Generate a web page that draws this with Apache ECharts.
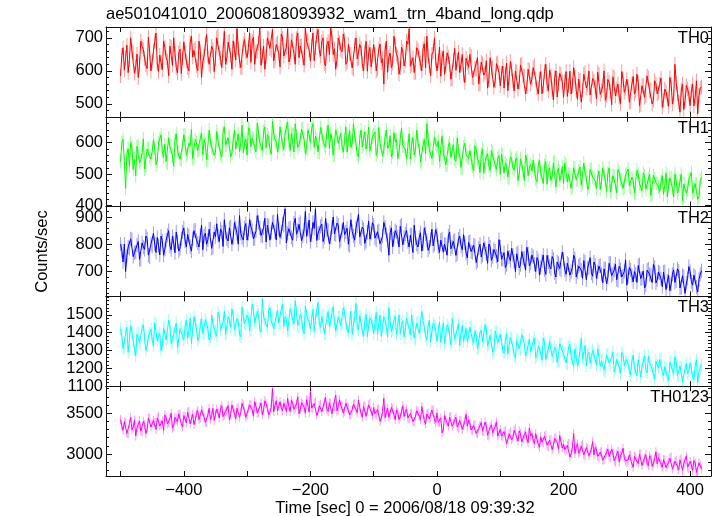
<!DOCTYPE html>
<html><head><meta charset="utf-8">
<script src="https://cdn.jsdelivr.net/npm/echarts@6/dist/echarts.min.js"></script>
<style>html,body{margin:0;padding:0;background:#fff}#c{width:717px;height:516px}</style>
</head><body><div id="c"></div>
<script>
// time bins: first bin start and bin width (sec)
const T_START = -500, T_BIN = 2;

const th0 = [
585,647,670,602,640,678,595,634,700,660,655,593,612,651,580,620,690,674,665,638,618,607,702,656,600,629,
660,689,715,622,598,648,625,604,690,671,640,631,585,675,672,617,700,653,610,594,655,666,592,640,
688,655,630,610,600,686,705,642,662,668,615,601,690,659,580,628,645,682,710,646,620,614,675,664,598,637,
700,705,655,638,610,664,720,620,640,687,690,647,605,691,665,633,728,669,630,610,612,682,695,656,
640,671,715,626,690,702,620,658,660,684,731,617,645,675,605,644,700,698,668,662,725,630,630,680,685,653,
612,712,700,645,660,671,728,627,640,694,690,654,620,698,715,640,675,676,640,617,732,689,690,663,
630,676,715,631,670,707,725,663,645,689,700,622,615,680,690,649,730,703,650,667,605,635,700,685,665,658,
712,694,620,627,680,653,650,609,605,676,700,636,640,680,668,622,600,658,690,599,655,671,612,645,
680,650,600,605,665,681,625,637,560,663,690,596,642,654,610,623,705,677,650,641,590,609,672,659,615,632,
690,681,728,614,620,640,595,596,670,663,640,623,600,667,682,609,705,645,615,586,650,658,700,632,
600,629,672,584,640,660,590,616,655,642,620,575,575,633,668,602,632,656,595,620,650,588,565,638,625,611,
650,645,580,578,608,604,640,560,560,627,622,587,595,631,548,573,640,609,610,550,570,622,625,596,
555,593,615,548,590,624,540,580,628,606,570,539,600,597,545,566,618,620,585,584,530,552,605,602,560,575,
610,616,575,549,530,575,598,531,555,598,620,558,540,602,585,544,512,580,600,521,560,593,590,567,
520,568,598,523,555,599,530,555,610,581,540,514,575,572,505,541,590,595,548,559,600,527,522,577,570,550,
515,596,590,529,540,555,600,511,525,574,565,538,498,582,580,524,545,560,520,501,598,574,535,547,
575,552,505,507,560,583,530,539,590,565,495,498,555,556,520,525,585,579,540,543,500,511,570,561,530,534,
560,578,490,511,545,537,515,493,580,560,500,520,620,564,530,506,475,542,560,483,510,556,545,529,
495,539,560,494,520,570,470,526,548,552];

const th1 = [
540,600,610,540,455,564,580,524,600,584,515,548,495,588,590,536,545,568,612,516,520,580,580,556,548,572,
610,583,530,543,598,611,625,571,555,595,540,535,615,587,590,559,525,607,628,575,570,547,545,591,
625,626,560,566,598,590,642,550,548,610,600,574,575,614,630,562,610,594,545,542,640,606,585,582,560,570,
635,604,600,564,555,632,650,592,590,616,620,556,565,608,640,580,605,628,572,596,655,568,598,612,
560,647,640,587,615,611,585,571,662,631,600,595,575,635,650,583,625,615,580,563,668,627,610,603,570,590,
650,618,595,578,630,646,665,606,575,630,625,570,660,622,585,594,610,642,645,610,565,582,640,626,
600,645,660,585,620,609,570,569,648,629,605,593,585,633,655,581,628,613,560,561,640,625,598,601,630,588,
570,610,650,570,610,638,585,598,660,622,598,562,555,614,640,586,615,634,580,602,650,574,595,618,
625,634,560,574,648,598,600,558,575,618,640,582,590,622,555,570,632,602,610,550,570,614,645,590,585,578,
548,588,628,548,595,616,560,576,640,600,582,540,540,592,610,564,660,612,575,580,550,552,618,596,
588,605,540,545,622,569,570,529,530,589,600,553,575,593,548,541,615,573,560,521,520,585,598,561,555,550,
575,551,525,511,590,579,548,539,505,563,580,503,540,555,565,527,512,575,570,543,530,515,550,559,
500,564,560,504,535,528,490,488,555,548,520,512,545,552,480,500,548,532,510,480,560,544,495,520,530,510,
545,516,485,476,525,544,505,504,470,528,540,468,512,520,480,492,535,540,460,508,520,480,495,524,
470,535,530,475,500,499,455,459,520,519,482,483,510,523,465,471,535,503,490,451,460,515,515,491,488,480,
455,491,510,451,478,519,500,479,445,503,520,443,470,495,495,467,440,515,505,483,480,455,458,499,
500,516,462,456,490,480,440,440,512,500,470,464,448,504,495,452,468,484,500,432,435,496,485,472,470,460,
445,476,495,436,465,504,428,464,488,488,455,428,500,480,440,452,478,500,415,468,470,440,450,484,
485,505,440,445,470,469,420,429,480,489];

const th2 = [
800,777,735,801,700,757,790,785,820,817,755,769,772,797,810,745,745,805,790,781,830,821,760,753,800,793,
840,801,770,825,795,761,830,813,760,781,815,833,850,793,780,829,805,769,845,809,775,785,820,845,
860,812,790,836,830,792,775,820,850,852,815,804,790,832,870,780,830,840,800,816,855,856,785,788,845,828,
875,832,810,856,845,792,890,844,820,812,860,864,800,824,880,860,840,800,905,840,825,816,860,876,
815,840,890,864,850,820,820,848,905,880,860,832,830,860,895,808,870,868,815,844,880,884,845,816,910,856,
825,845,875,869,930,805,840,857,860,825,815,877,895,837,850,873,880,813,830,853,920,829,855,889,
810,834,880,858,930,814,840,842,865,874,810,826,895,854,850,802,825,862,900,838,835,878,870,810,815,850,
880,835,845,859,800,795,890,847,830,815,860,867,910,827,820,863,855,803,810,843,885,819,840,879,
870,822,815,846,850,802,795,830,880,862,835,814,760,842,860,790,820,850,845,826,790,866,870,798,825,838,
850,810,790,834,835,770,870,822,800,790,825,842,775,802,860,838,815,778,790,818,855,794,800,854,
835,791,770,815,820,771,800,799,760,831,845,783,790,811,815,759,765,819,830,795,780,835,805,767,750,807,
810,773,770,797,795,733,740,785,800,753,760,805,785,765,730,801,790,741,755,781,775,757,735,817,
790,745,745,769,715,725,775,753,740,785,760,737,700,765,770,713,725,773,750,749,705,789,765,721,730,761,
755,727,700,751,740,687,715,739,760,707,690,759,735,719,710,755,745,695,680,735,730,711,705,771,
745,707,690,731,725,687,700,715,760,747,680,699,720,727,705,675,740,735,670,711,715,751,695,683,735,723,
675,699,720,723,690,659,710,711,655,679,730,731,685,691,705,727,670,667,720,707,680,683,700,743,
650,682,715,706,685,662,700,690,660,722,725,674,675,702,640,650,705,710,690,686,660,726,715,658,670,698,
695,674,645,698,700,634,665,686,630,654,690,706,660,666,710,702,640,642,685,682,620,658,675,718,
700,663,650,687,680,643,625,671,690,703];

const th3 = [
1420,1384,1310,1319,1395,1430,1290,1364,1440,1404,1350,1306,1270,1391,1400,1345,1335,1423,1445,1371,1300,1325,1380,1397,1420,1358,
1330,1455,1450,1357,1380,1397,1300,1331,1425,1429,1360,1370,1470,1436,1340,1351,1395,1403,1455,1318,1320,1423,1430,1383,
1360,1435,1470,1370,1405,1481,1340,1415,1490,1455,1420,1357,1375,1442,1480,1396,1395,1474,1450,1422,1360,1376,1500,1448,1420,1409,
1380,1515,1495,1417,1440,1457,1520,1391,1400,1489,1470,1430,1535,1496,1420,1411,1480,1463,1390,1378,1545,1483,1450,1443,
1500,1482,1410,1417,1560,1528,1455,1462,1520,1502,1420,1404,1590,1489,1470,1443,1430,1521,1540,1469,1480,1423,1415,1495,1525,1456,
1450,1534,1560,1436,1490,1476,1410,1410,1535,1508,1470,1449,1580,1515,1440,1430,1505,1482,1420,1397,1550,1502,1475,1462,
1420,1473,1530,1408,1480,1519,1570,1453,1430,1493,1500,1395,1395,1480,1520,1434,1465,1512,1545,1460,1410,1414,1490,1486,1440,1447,
1540,1515,1460,1417,1400,1457,1520,1391,1450,1489,1565,1430,1415,1496,1490,1411,1380,1463,1505,1378,1440,1483,1470,1443,
1395,1454,1515,1389,1450,1500,1380,1434,1490,1474,1430,1376,1540,1461,1405,1415,1470,1493,1390,1441,1500,1395,1445,1467,1375,1428,
1480,1487,1420,1389,1500,1429,1370,1363,1455,1461,1395,1402,1520,1468,1430,1383,1360,1435,1470,1350,1405,1455,1440,1415,
1350,1411,1460,1346,1400,1457,1340,1391,1445,1431,1385,1333,1480,1418,1365,1372,1420,1450,1330,1398,1440,1352,1390,1424,1350,1385,
1430,1440,1360,1342,1410,1382,1310,1316,1400,1414,1350,1355,1445,1421,1325,1336,1385,1388,1290,1303,1410,1408,1345,1368,
1390,1350,1300,1285,1355,1396,1280,1330,1375,1370,1320,1272,1260,1357,1360,1311,1305,1389,1385,1337,1270,1291,1330,1363,1295,1324,
1350,1370,1260,1272,1325,1312,1280,1246,1370,1344,1250,1285,1310,1351,1345,1266,1265,1318,1300,1233,1240,1338,1335,1298,
1280,1290,1230,1225,1320,1336,1265,1270,1210,1310,1300,1212,1245,1297,1370,1251,1255,1329,1215,1277,1290,1231,1235,1303,1275,1264,
1220,1309,1300,1211,1240,1251,1190,1185,1275,1283,1230,1224,1260,1290,1180,1205,1250,1257,1205,1172,1290,1277,1215,1237,
1250,1229,1180,1164,1240,1275,1200,1209,1160,1249,1255,1151,1215,1236,1270,1190,1175,1268,1230,1216,1195,1170,1140,1242,1220,1203,
1250,1257,1175,1159,1210,1199,1150,1133,1235,1231,1190,1172,1265,1238,1160,1153,1215,1205,1125,1120,1200,1225,1170,1185,
1230,1201,1150,1136,1210,1247,1120,1181,1200,1221];

const th0123 = [
3420,3341,3290,3395,3380,3251,3250,3368,3450,3296,3330,3413,3220,3323,3360,3404,3280,3269,3400,3359,3250,3305,3440,3440,3330,3370,
3410,3387,3300,3441,3460,3342,3360,3405,3290,3477,3450,3369,3380,3432,3500,3315,3340,3450,3430,3396,3490,3486,3370,3333,
3470,3459,3380,3513,3520,3369,3430,3486,3360,3414,3500,3531,3420,3441,3540,3522,3450,3387,3390,3477,3560,3423,3470,3558,3410,3488,
3550,3502,3440,3556,3590,3457,3480,3520,3530,3592,3420,3484,3600,3547,3500,3430,3560,3565,3450,3511,3620,3601,3520,3448,
3470,3553,3600,3607,3540,3463,3640,3580,3500,3508,3580,3625,3480,3535,3650,3616,3560,3481,3510,3571,3800,3517,3590,3652,3530,3582,
3640,3565,3530,3619,3600,3520,3680,3583,3520,3655,3620,3547,3560,3610,3700,3493,3540,3628,3610,3574,3500,3664,3650,3511,
3760,3564,3560,3618,3640,3474,3510,3591,3610,3519,3570,3636,3690,3546,3520,3627,3620,3492,3580,3582,3720,3528,3540,3663,3600,3593,
3500,3523,3620,3577,3560,3478,3480,3541,3610,3613,3540,3505,3660,3568,3500,3451,3580,3586,3460,3532,3600,3622,3520,3469,
3570,3491,3470,3545,3550,3401,3440,3518,3680,3446,3510,3563,3450,3473,3570,3554,3480,3419,3540,3509,3420,3455,3520,3590,3460,3520,
3550,3440,3430,3494,3500,3395,3400,3458,3530,3530,3460,3422,3580,3485,3410,3368,3490,3503,3430,3449,3540,3539,3420,3386,
3500,3387,3390,3441,3260,3297,3470,3414,3380,3342,3450,3459,3340,3369,3420,3450,3330,3315,3410,3405,3300,3351,3400,3486,3340,3416,
3380,3294,3290,3348,3360,3249,3250,3312,3350,3384,3280,3276,3390,3339,3230,3222,3330,3357,3260,3303,3340,3393,3220,3240,
3300,3220,3220,3274,3290,3130,3180,3247,3270,3175,3200,3292,3310,3202,3160,3283,3250,3148,3190,3238,3270,3184,3140,3319,3220,3249,
3170,3127,3250,3181,3120,3082,3210,3145,3140,3217,3230,3109,3090,3172,3180,3055,3110,3190,3200,3136,3060,3226,3150,3073,
3120,3053,3040,3107,3130,2963,3000,3080,3250,3008,3090,3125,3010,3035,3100,3116,2990,2981,3080,3071,2980,3017,3060,3152,2990,3082,
3050,2972,2950,3026,3030,2927,2930,2990,3020,3062,2970,2954,3060,3017,2920,2900,3000,3035,2900,2981,3010,3071,2950,2918,
2900,2929,2990,2983,2880,2839,2970,2956,2910,2884,3000,3001,2860,2911,2950,2992,2890,2857,2980,2947,2850,2893,2940,3028,2880,2958,
2960,2878,2840,2932,2930,2833,2870,2896,2950,2968,2820,2860,2910,2923,2850,2806,2930,2941,2800,2887,2900,2977,2840,2824,
2910,2866,2800,2920,2890,2776,2770,2893,2870,2821];

// typical 1-sigma error per band (counts/sec)
const bandErr = [22, 22, 26, 35, 55];

const bandNames = ['TH0','TH1','TH2','TH3','TH0123'];
const bandData = [th0, th1, th2, th3, th0123];
const bandColors = ['#ff0000','#00ff00','#0000ff','#00ffff','#ff00ff'];
const yRanges = [[461,733],[397,682],[609,938],[1100,1604],[2732,3829]];
const yMajorTicks = [[500,600,700],[400,500,600],[700,800,900],[1100,1200,1300,1400,1500],[3000,3500]];
const yMinorStep = [20,20,20,20,100];
const xRange = [-523, 433];
const xLabelTicks = [-400,-200,0,200,400];
const xTickStep = 100;
const titleText = 'ae501041010_20060818093932_wam1_trn_4band_long.qdp';
const yTitle = 'Counts/sec';
const xTitle = 'Time [sec] 0 = 2006/08/18 09:39:32';

const FONT = "'Liberation Sans', Arial, Helvetica, sans-serif";
const FS = 16.5;
const LEFT = 106, RIGHT_EDGE = 711, TOP = 27, BOTTOM = 476;
const PH = (BOTTOM - TOP) / 5;
const AXC = '#111';

function stepVals(min, max, step) {
  const out = [];
  for (let v = Math.ceil(min / step) * step; v <= max; v += step) out.push(v);
  return out;
}
const xTickVals = stepVals(xRange[0], xRange[1], xTickStep);

const grids = [], xAxes = [], yAxes = [], series = [], graphics = [];
for (let p = 0; p < 5; p++) {
  grids.push({left: LEFT, width: RIGHT_EDGE - LEFT, top: TOP + p * PH, height: PH, containLabel: false});
  const isLast = p === 4;
  ['bottom','top'].forEach((pos) => {
    xAxes.push({
      type: 'value', gridIndex: p, position: pos, min: xRange[0], max: xRange[1],
      axisLine: {show: true, onZero: false, lineStyle: {color: AXC, width: 1}},
      axisTick: {show: true, inside: true, length: 5, customValues: xTickVals, lineStyle: {color: AXC}},
      axisLabel: {show: isLast && pos === 'bottom', customValues: xLabelTicks, color: '#000',
        fontFamily: FONT, fontSize: FS, margin: 6,
        formatter: v => (v < 0 ? '\u2212' + Math.abs(v) : String(v))},
      splitLine: {show: false}
    });
  });
  const [ymin, ymax] = yRanges[p];
  const minorVals = stepVals(ymin, ymax, yMinorStep[p]).filter(v => !yMajorTicks[p].includes(v));
  ['left','right'].forEach((pos) => {
    yAxes.push({
      type: 'value', gridIndex: p, position: pos, min: ymin, max: ymax,
      axisLine: {show: true, onZero: false, lineStyle: {color: AXC, width: 1}},
      axisTick: {show: true, inside: true, length: 6, customValues: yMajorTicks[p], lineStyle: {color: AXC}},
      axisLabel: {show: pos === 'left', customValues: yMajorTicks[p], color: '#000',
        fontFamily: FONT, fontSize: FS, margin: 3, formatter: v => String(v)},
      splitLine: {show: false}
    });
    yAxes.push({
      type: 'value', gridIndex: p, position: pos, min: ymin, max: ymax,
      axisLine: {show: false, onZero: false},
      axisTick: {show: true, inside: true, length: 3, customValues: minorVals, lineStyle: {color: AXC}},
      axisLabel: {show: false},
      splitLine: {show: false}
    });
  });
  const color = bandColors[p];
  const err = bandErr[p];
  const data = bandData[p].map((v, i) => [T_START + i * T_BIN, v, err]);
  series.push({
    type: 'custom', xAxisIndex: p * 2, yAxisIndex: p * 4, data: data, clip: true, z: 1,
    encode: {x: 0, y: 1}, animation: false, silent: true,
    renderItem: (params, api) => {
      const t = api.value(0), v = api.value(1), e = api.value(2);
      const a = api.coord([t, v - e]), b = api.coord([t, v + e]);
      return {type: 'line', shape: {x1: a[0], y1: a[1], x2: b[0], y2: b[1]},
        style: {stroke: color, lineWidth: 1, opacity: 0.4}};
    }
  });
  series.push({
    type: 'line', xAxisIndex: p * 2, yAxisIndex: p * 4, data: data.map(d => [d[0], d[1]]),
    showSymbol: false, symbol: 'none', animation: false, z: 2,
    lineStyle: {color: color, width: 1}, itemStyle: {color: color}
  });
  graphics.push({
    type: 'text', right: 717 - 709, top: TOP + p * PH + 3,
    style: {text: bandNames[p], fill: '#000', font: FS + 'px ' + FONT}
  });
}
graphics.push({type: 'text', left: LEFT, top: 6, style: {text: titleText, fill: '#000', font: FS + 'px ' + FONT}});
graphics.push({type: 'text', x: 42, y: (TOP + BOTTOM) / 2, rotation: Math.PI / 2,
  style: {text: yTitle, fill: '#000', font: FS + 'px ' + FONT, textAlign: 'center', textVerticalAlign: 'middle'}});
graphics.push({type: 'text', x: 405, y: 508,
  style: {text: xTitle, fill: '#000', font: FS + 'px ' + FONT, textAlign: 'center', textVerticalAlign: 'middle'}});

const chart = echarts.init(document.getElementById('c'), null, {renderer: 'canvas'});
chart.setOption({
  animation: false, backgroundColor: '#fff',
  grid: grids, xAxis: xAxes, yAxis: yAxes, series: series, graphic: graphics
});
</script></body></html>
